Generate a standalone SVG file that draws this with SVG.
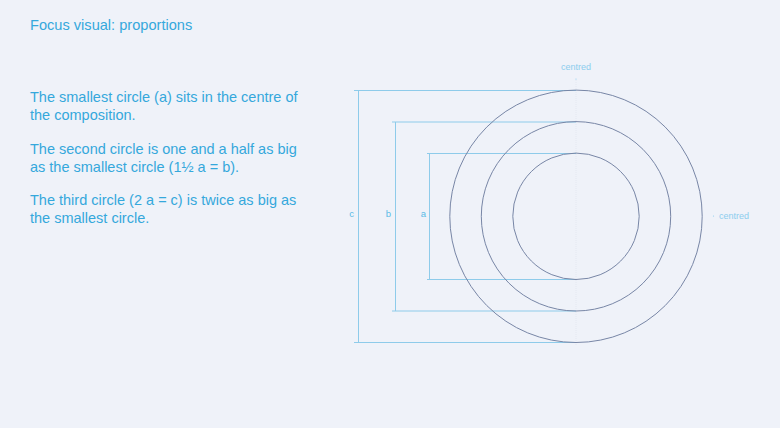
<svg xmlns="http://www.w3.org/2000/svg" width="780" height="428" viewBox="0 0 780 428">
<style>
.t{font-family:"Liberation Sans",Arial,sans-serif;fill:#35a8dc}
.body{font-size:14.5px}
.lbl{font-family:"Liberation Sans",Arial,sans-serif;font-size:9.5px;fill:#5bbbe6}
.cen{font-family:"Liberation Sans",Arial,sans-serif;font-size:9px;fill:#8ccdee}
.dim{fill:none;stroke:#8ecbea;stroke-width:1}
.circ{fill:none;stroke:#7886a6;stroke-width:1}
</style>
<rect width="780" height="428" fill="#eff2f9"/>
<text class="t" x="30" y="30" font-size="14.6">Focus visual: proportions</text>
<g id="text">
<text class="t body" x="30" y="101.5">The smallest circle (a) sits in the centre of</text>
<text class="t body" x="30" y="119.5">the composition.</text>
<text class="t body" x="30" y="153.5">The second circle is one and a half as big</text>
<text class="t body" x="30" y="171.5">as the smallest circle (1½ a = b).</text>
<text class="t body" x="30" y="205">The third circle (2 a = c) is twice as big as</text>
<text class="t body" x="30" y="223">the smallest circle.</text>
</g>
<g id="connectors">
<line x1="576" y1="80" x2="576" y2="346" stroke="#e4e8f1" stroke-width="1" stroke-dasharray="1 1"/>
<path class="dim" d="M354 90.5H576M358.5 90.5V342.5M354 342.5H576"/>
<path class="dim" d="M392 122H576M395.5 122V311M392 311H576"/>
<path class="dim" d="M427 153.5H576M429.5 153.5V279.5M427 279.5H576"/>
</g>
<g id="circle-c"><circle class="circ" cx="576" cy="216.3" r="126.2"/></g>
<g id="circle-b"><circle class="circ" cx="576" cy="216.3" r="94.7"/></g>
<g id="circle-a"><circle class="circ" cx="576" cy="216.3" r="63.2"/></g>
<g id="labels">
<text class="lbl" x="351.5" y="217" text-anchor="middle">c</text>
<text class="lbl" x="388.5" y="217" text-anchor="middle">b</text>
<text class="lbl" x="423.5" y="217" text-anchor="middle">a</text>
<text class="cen" x="576" y="70" text-anchor="middle">centred</text>
<circle cx="576" cy="79" r="0.6" fill="#8ccdee"/>
<text class="cen" x="719" y="218.5">centred</text>
<circle cx="713.5" cy="216" r="0.6" fill="#8ccdee"/>
</g>
</svg>
